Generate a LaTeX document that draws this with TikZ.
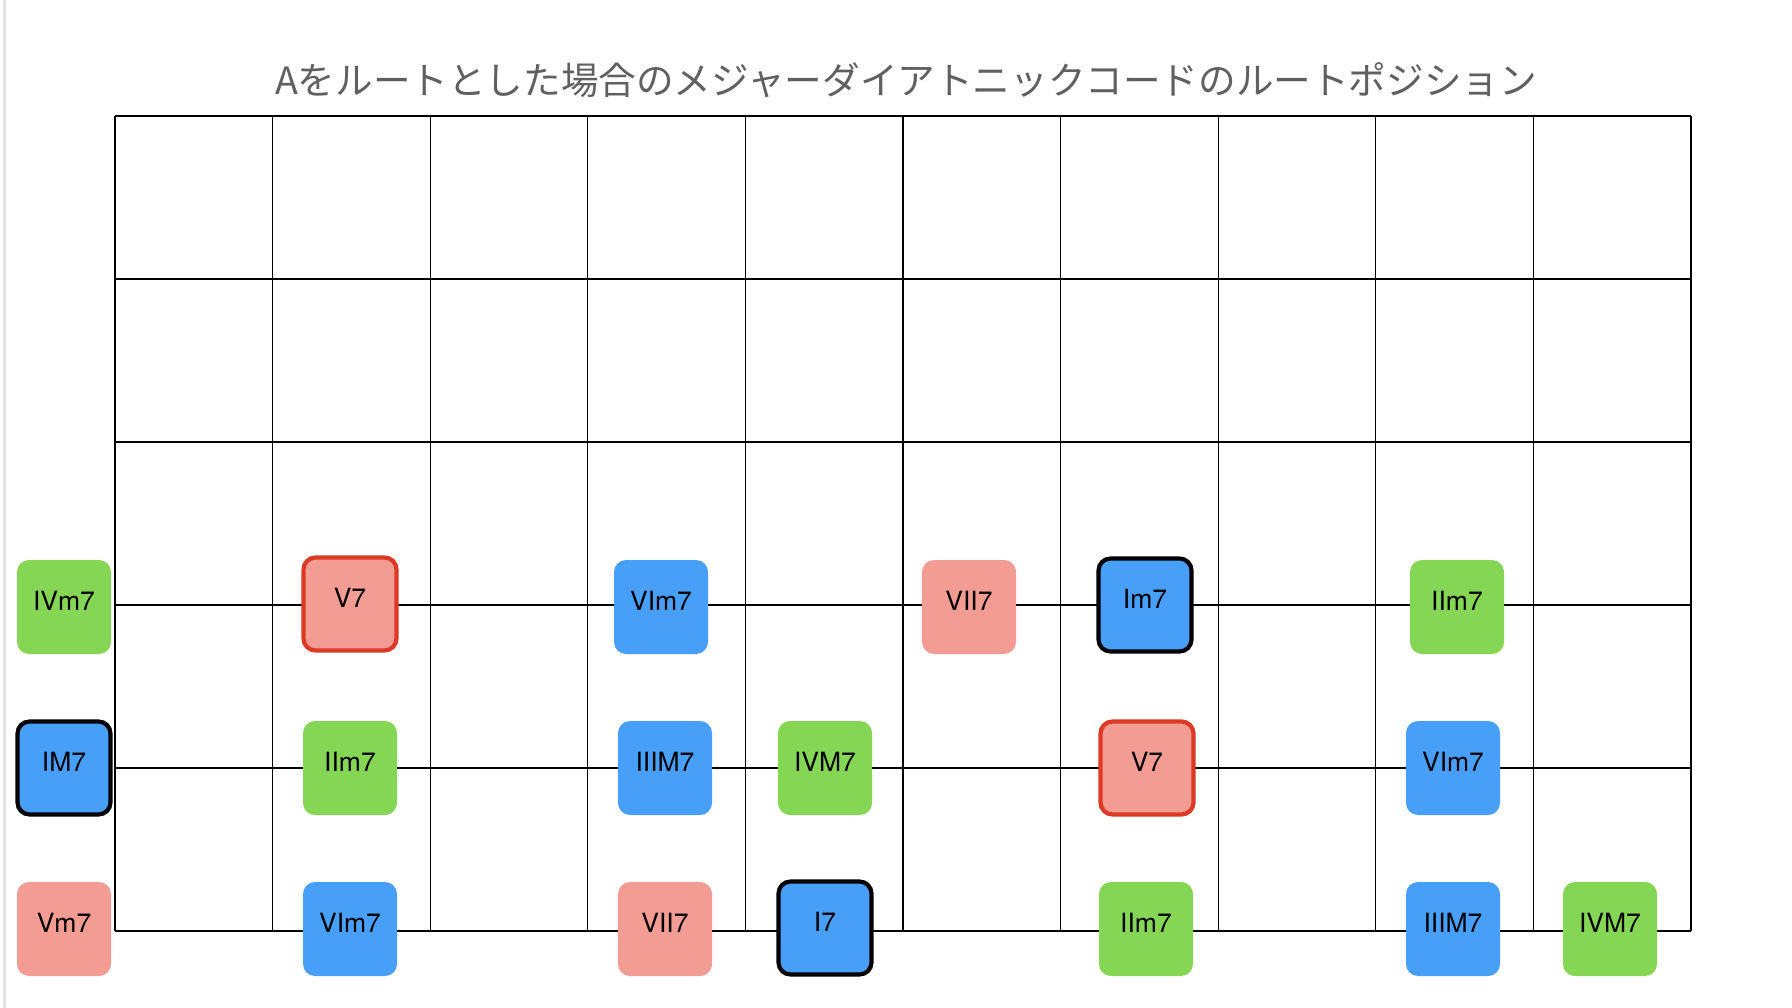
\documentclass[tikz,border=0pt]{standalone}
\usepackage{fontspec}
\setmainfont{TeX Gyre Heros}
\newfontfamily\cjkfont{Noto Sans CJK JP}
\definecolor{cgreen}{RGB}{132,214,84}
\definecolor{cblue}{RGB}{72,159,248}
\definecolor{csalmon}{RGB}{242,156,147}
\definecolor{cred}{RGB}{220,58,37}
\definecolor{ctitle}{RGB}{96,96,96}
\definecolor{cedge}{RGB}{226,226,226}
\begin{document}
\begin{tikzpicture}[x=1pt,y=-1pt,
  gridline/.style={line width=1.2pt,black},
  chord/.style={rounded corners=12pt,minimum width=94pt,minimum height=94pt,inner sep=0pt,
    text height=19pt,text depth=13pt,font=\fontsize{26.5}{30}\selectfont,align=center},
  gbox/.style={chord,fill=cgreen},
  bbox/.style={chord,fill=cblue},
  sbox/.style={chord,fill=csalmon},
  keyblack/.style={minimum width=93pt,minimum height=93pt,draw=black,line width=4.2pt},
  keyred/.style={minimum width=93pt,minimum height=93pt,draw=cred,line width=4.2pt}]
\useasboundingbox (0,0) rectangle (1792,1008);
\fill[white] (0,0) rectangle (1792,1008);
\draw[cedge,line width=3pt] (4.5,0) -- (4.5,1008);
% title
\node[font=\cjkfont\fontsize{37.6}{40}\selectfont,text=ctitle,anchor=base] (title) at (906,95) {Aをルートとした場合のメジャーダイアトニックコードのルートポジション};
% grid
\foreach \k in {0,...,10}{
  \draw[gridline] ({115+157.6*\k},116) -- ({115+157.6*\k},931);
}
\foreach \j in {0,...,5}{
  \draw[gridline] (115,{116+163*\j}) -- (1691,{116+163*\j});
}
% row A (y=607)
\node[gbox] (a1) at (64,607) {IVm7};
\node[sbox,keyred] (a2) at (350,604) {V7};
\node[bbox] (a3) at (661,607) {VIm7};
\node[sbox] (a4) at (969,607) {VII7};
\node[bbox,keyblack] (a5) at (1145,605) {Im7};
\node[gbox] (a6) at (1457,607) {IIm7};
% row B (y=768)
\node[bbox,keyblack] (b1) at (64,768) {IM7};
\node[gbox] (b2) at (350,768) {IIm7};
\node[bbox] (b3) at (665,768) {IIIM7};
\node[gbox] (b4) at (825,768) {IVM7};
\node[sbox,keyred] (b5) at (1147,768) {V7};
\node[bbox] (b6) at (1453,768) {VIm7};
% row C (y=929)
\node[sbox] (c1) at (64,929) {Vm7};
\node[bbox] (c2) at (350,929) {VIm7};
\node[sbox] (c3) at (665,929) {VII7};
\node[bbox,keyblack] (c4) at (825,928) {I7};
\node[gbox] (c5) at (1146,929) {IIm7};
\node[bbox] (c6) at (1453,929) {IIIM7};
\node[gbox] (c7) at (1610,929) {IVM7};
\end{tikzpicture}
\end{document}
